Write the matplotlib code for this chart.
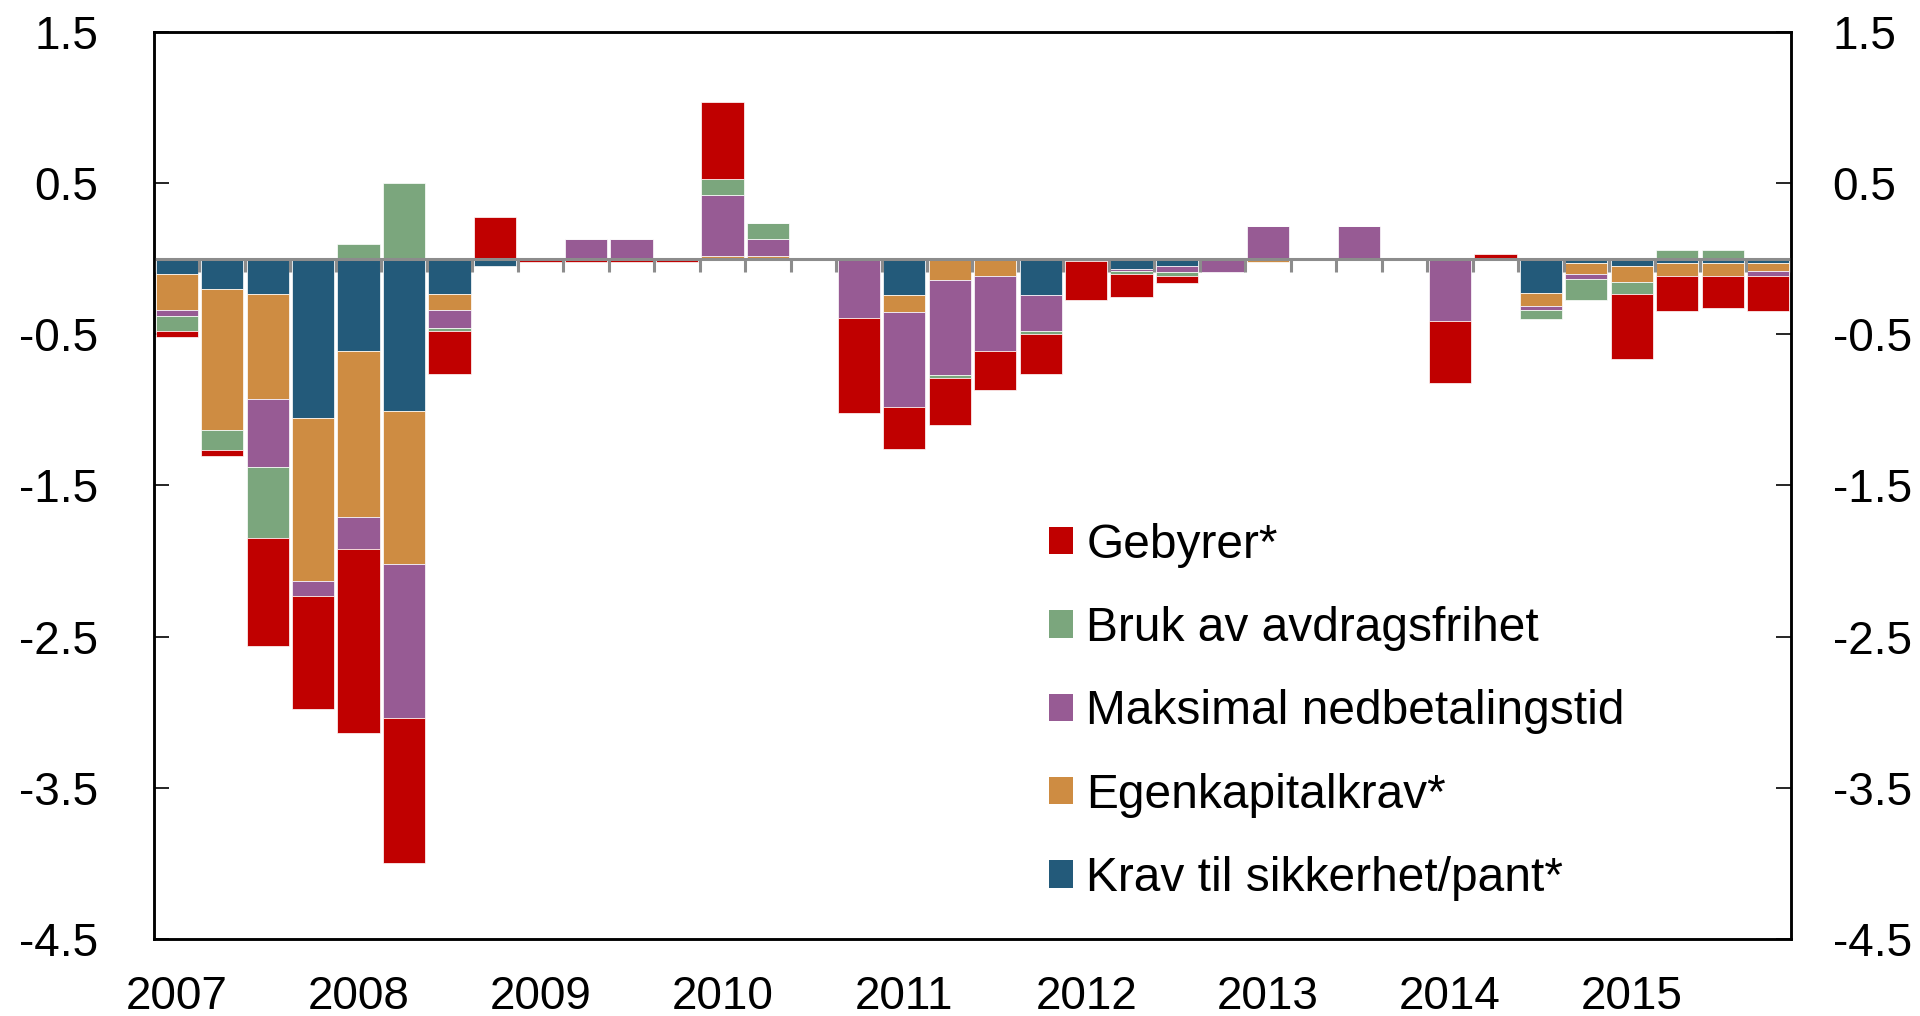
import numpy as np
import matplotlib.pyplot as plt

plt.rcParams['font.family'] = ['Liberation Sans', 'DejaVu Sans']

# Kvartaler 2007K1 - 2015K4
aar = ['2007', '2008', '2009', '2010', '2011', '2012', '2013', '2014', '2015']
kvartal = [a + 'K' + str(k) for a in aar for k in range(1, 5)]

krav_sikkerhet = [-0.10, -0.20, -0.23, -1.05, -0.61, -1.01, -0.23, -0.05,
                  0, 0, 0, 0,
                  0, 0, 0, 0,
                  -0.24, 0, 0, -0.24,
                  0, -0.07, -0.05, 0,
                  0, 0, 0, 0,
                  0, 0, -0.225, -0.03,
                  -0.05, -0.03, -0.03, -0.03]

egenkapital = [-0.24, -0.93, -0.70, -1.08, -1.10, -1.01, -0.11, 0,
               0, 0, 0, 0,
               0.02, 0.02, 0, 0,
               -0.11, -0.14, -0.11, 0,
               0, 0, 0, 0,
               -0.02, 0, 0, 0,
               0, 0, -0.085, -0.07,
               -0.10, -0.08, -0.08, -0.05]

nedbetalingstid = [-0.04, 0, -0.45, -0.10, -0.21, -1.02, -0.12, 0,
                   0, 0.13, 0.13, 0,
                   0.40, 0.11, 0, -0.39,
                   -0.63, -0.63, -0.50, -0.24,
                   0, -0.01, -0.04, -0.09,
                   0.22, 0, 0.22, 0,
                   -0.41, 0, -0.03, -0.03,
                   0, 0, 0, -0.03]

avdragsfrihet = [-0.10, -0.135, -0.47, 0, 0.10, 0.50, -0.02, 0,
                 0, 0, 0, 0,
                 0.11, 0.11, 0, 0,
                 0, -0.02, 0, -0.02,
                 -0.015, -0.02, -0.025, 0,
                 0, 0, 0, 0,
                 0, 0, -0.06, -0.14,
                 -0.08, 0.06, 0.06, 0]

gebyrer = [-0.04, -0.04, -0.71, -0.75, -1.22, -0.96, -0.28, 0.28,
           -0.02, -0.02, -0.02, -0.02,
           0.51, 0, 0, -0.63,
           -0.28, -0.31, -0.26, -0.26,
           -0.26, -0.15, -0.045, 0,
           0, 0, 0, 0,
           -0.41, 0.03, 0, 0,
           -0.43, -0.235, -0.215, -0.235]

serier = [
    ('Krav til sikkerhet/pant*', krav_sikkerhet, '#235a7a'),
    ('Egenkapitalkrav*', egenkapital, '#ce8c42'),
    ('Maksimal nedbetalingstid', nedbetalingstid, '#975b94'),
    ('Bruk av avdragsfrihet', avdragsfrihet, '#7ba67d'),
    ('Gebyrer*', gebyrer, '#c00000'),
]

yticks = [1.5, 0.5, -0.5, -1.5, -2.5, -3.5, -4.5]
ytick_labels = ['1.5', '0.5', '-0.5', '-1.5', '-2.5', '-3.5', '-4.5']

fig = plt.figure(figsize=(19.2, 10.16), dpi=100)
ax = fig.add_axes([0.0802, 0.0761, 0.8526, 0.8921])

x = np.arange(len(kvartal))
pos = np.zeros(len(kvartal))
neg = np.zeros(len(kvartal))
handles = []
for navn, verdier, farge in serier:
    v = np.array(verdier, dtype=float)
    bunn = np.where(v >= 0, pos, neg)
    b = ax.bar(x, v, bottom=bunn, width=0.93, color=farge,
               edgecolor='white', linewidth=0.5, label=navn, zorder=2)
    handles.append(b)
    pos = pos + np.where(v > 0, v, 0)
    neg = neg + np.where(v < 0, v, 0)

# nulllinje med små streker mellom kvartalene
ax.axhline(0, color='#8c8c8c', lw=2.2, zorder=3)
ax.vlines(np.arange(-0.5, len(kvartal), 1), -0.086, 0, color='#8c8c8c', lw=2.2, zorder=3)

ax.set_xlim(-0.5, len(kvartal) - 0.5)
ax.set_ylim(-4.5, 1.5)
ax.set_xticks(x[::4])
ax.set_xticklabels(aar)
ax.tick_params(axis='x', length=0, pad=26, labelsize=33)
ax.set_yticks(yticks)
ax.set_yticklabels(ytick_labels)
ax.tick_params(axis='y', direction='in', length=11, width=1.2, pad=40, labelsize=33)

ax2 = ax.twinx()
ax2.set_ylim(-4.5, 1.5)
ax2.set_yticks(yticks)
ax2.set_yticklabels(ytick_labels)
ax2.tick_params(axis='y', direction='in', length=11, width=1.2, pad=30, labelsize=33)

for a in (ax, ax2):
    for s in a.spines.values():
        s.set_linewidth(1.8)
        s.set_color('black')

leg = ax.legend(handles[::-1], [s[0] for s in serier][::-1],
                loc='upper left', bbox_to_anchor=(0.547, 0.459), frameon=False,
                fontsize=34.5, handlelength=0.5, handleheight=0.5,
                handletextpad=0.27, labelspacing=0.8, borderpad=0, borderaxespad=0)
for h in leg.legend_handles:
    h.set_linewidth(0)

fig.savefig('out.png', dpi=100)
